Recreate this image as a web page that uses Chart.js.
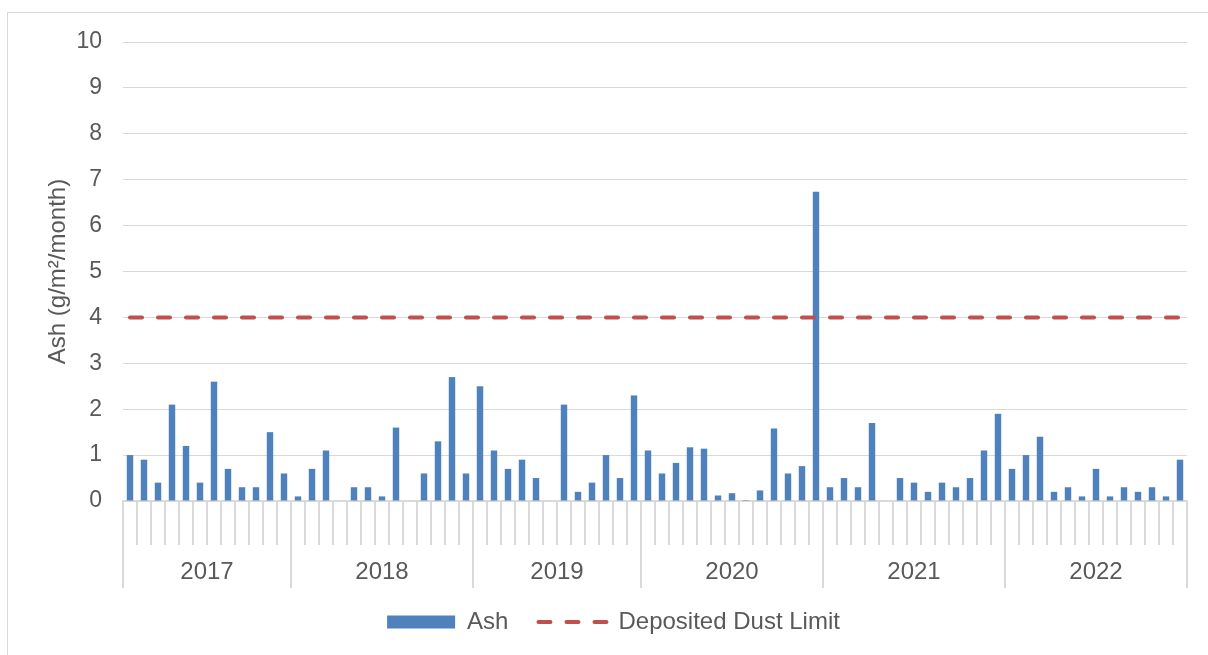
<!DOCTYPE html>
<html>
<head>
<meta charset="utf-8">
<script src="https://cdn.jsdelivr.net/npm/chart.js@4/dist/chart.umd.min.js"></script>
<style>
  html, body { margin: 0; padding: 0; background: #fff; overflow: hidden; }
  #frame { position: absolute; left: 7px; top: 12px; width: 1230px; height: 670px; border: 1px solid #d9d9d9; box-sizing: border-box; }
  #wrap { position: absolute; left: 0; top: 0; width: 1208px; height: 655px; }
</style>
</head>
<body>
<div id="frame"></div>
<div id="wrap"><canvas id="c" width="1208" height="655"></canvas></div>
<script>
// ---- data ----
const yearLabels = ['2017', '2018', '2019', '2020', '2021', '2022'];
const samplesPerYear = [12, 13, 12, 13, 13, 13];
const ashValues = [
  1.0, 0.9, 0.4, 2.1, 1.2, 0.4, 2.6, 0.7, 0.3, 0.3, 1.5, 0.6,
  0.1, 0.7, 1.1, 0, 0.3, 0.3, 0.1, 1.6, 0, 0.6, 1.3, 2.7, 0.6,
  2.5, 1.1, 0.7, 0.9, 0.5, 0, 2.1, 0.2, 0.4, 1.0, 0.5, 2.3,
  1.1, 0.6, 0.83, 1.17, 1.14, 0.12, 0.17, 0.02, 0.23, 1.58, 0.6, 0.76, 6.74,
  0.3, 0.5, 0.3, 1.7, 0, 0.5, 0.4, 0.2, 0.4, 0.3, 0.5, 1.1, 1.9,
  0.7, 1.0, 1.4, 0.2, 0.3, 0.1, 0.7, 0.1, 0.3, 0.2, 0.3, 0.1, 0.9
];
const depositedDustLimit = [
  4, 4, 4, 4, 4, 4, 4, 4, 4, 4, 4, 4,
  4, 4, 4, 4, 4, 4, 4, 4, 4, 4, 4, 4, 4,
  4, 4, 4, 4, 4, 4, 4, 4, 4, 4, 4, 4,
  4, 4, 4, 4, 4, 4, 4, 4, 4, 4, 4, 4, 4,
  4, 4, 4, 4, 4, 4, 4, 4, 4, 4, 4, 4, 4,
  4, 4, 4, 4, 4, 4, 4, 4, 4, 4, 4, 4, 4
];
const yMin = 0, yMax = 10, yStep = 1;

// ---- derived structures ----
const categories = [];
yearLabels.forEach((y, i) => { for (let k = 1; k <= samplesPerYear[i]; k++) categories.push(y + ' #' + k); });
const boundaries = [0];
samplesPerYear.forEach(n => boundaries.push(boundaries[boundaries.length - 1] + n));
const mids = yearLabels.map((y, i) => (boundaries[i] + boundaries[i + 1]) / 2);

const FAMILY = "'Liberation Sans', Arial, sans-serif";
const FONT = { family: FAMILY, size: 23 };
const FONT24 = { family: FAMILY, size: 24 };
const TXT = '#595959';
const GRID = '#d9d9d9';
Chart.defaults.color = TXT;

new Chart(document.getElementById('c'), {
  type: 'bar',
  data: {
    labels: categories,
    datasets: [
      {
        type: 'bar', label: 'Ash', data: ashValues, xAxisID: 'x', yAxisID: 'y',
        backgroundColor: '#4F81BD', borderWidth: 0,
        categoryPercentage: 1, barPercentage: 0.46, order: 2
      },
      {
        type: 'line', label: 'Deposited Dust Limit', data: depositedDustLimit, xAxisID: 'x', yAxisID: 'y',
        borderColor: '#C0504D', backgroundColor: '#C0504D', borderWidth: 4,
        borderDash: [12, 16], borderCapStyle: 'round', pointRadius: 0, pointStyle: 'line',
        fill: false, order: 1
      }
    ]
  },
  options: {
    responsive: false,
    animation: false,
    layout: { padding: { left: 40, right: 21, top: 42, bottom: 11 } },
    plugins: {
      tooltip: { enabled: false },
      legend: {
        position: 'bottom',
        labels: {
          font: FONT24, color: TXT,
          usePointStyle: true, pointStyleWidth: 68, boxHeight: 13, padding: 30,
          sort: (a, b) => a.datasetIndex - b.datasetIndex,
          generateLabels: (chart) => {
            const items = Chart.defaults.plugins.legend.labels.generateLabels(chart);
            items.forEach((it) => {
              if (it.datasetIndex === 0) {
                it.pointStyle = 'rect'; it.lineWidth = 0; it.fillStyle = '#4F81BD'; it.strokeStyle = '#4F81BD';
              } else {
                it.pointStyle = 'line'; it.lineWidth = 4; it.strokeStyle = '#C0504D'; it.fillStyle = '#C0504D';
                it.lineDash = [12, 16]; it.lineCap = 'round';
              }
            });
            return items;
          }
        }
      }
    },
    scales: {
      x: {
        type: 'category', position: 'bottom', offset: true,
        grid: { offset: true, drawOnChartArea: false, color: GRID, lineWidth: 2, tickLength: 44 },
        border: { display: true, color: GRID, width: 2 },
        ticks: { display: false },
        afterFit: s => { s.height = 44; }
      },
      x2: {
        type: 'linear', position: 'bottom', offset: false,
        min: 0, max: boundaries[boundaries.length - 1],
        afterBuildTicks: s => {
          const vals = boundaries.concat(mids).sort((a, b) => a - b);
          s.ticks = vals.map(v => ({ value: v }));
        },
        grid: {
          offset: false, drawOnChartArea: false, tickLength: 43, lineWidth: 2,
          color: c => (c.tick && boundaries.includes(c.tick.value)) ? GRID : 'rgba(0,0,0,0)'
        },
        border: { display: false },
        ticks: {
          autoSkip: false, maxRotation: 0, minRotation: 0, font: FONT24, color: TXT, padding: -30,
          callback: (v) => { const i = mids.indexOf(v); return i >= 0 ? yearLabels[i] : ''; }
        },
        afterFit: s => { s.height = 35; }
      },
      y: {
        min: yMin, max: yMax,
        ticks: { stepSize: yStep, font: FONT, color: TXT, padding: 21 },
        grid: { color: GRID, drawTicks: false, lineWidth: 1 },
        border: { display: false },
        title: { display: true, text: 'Ash (g/m²/month)', font: FONT24, color: TXT },
        afterFit: s => { s.width = 83; }
      }
    }
  }
});
</script>
</body>
</html>
